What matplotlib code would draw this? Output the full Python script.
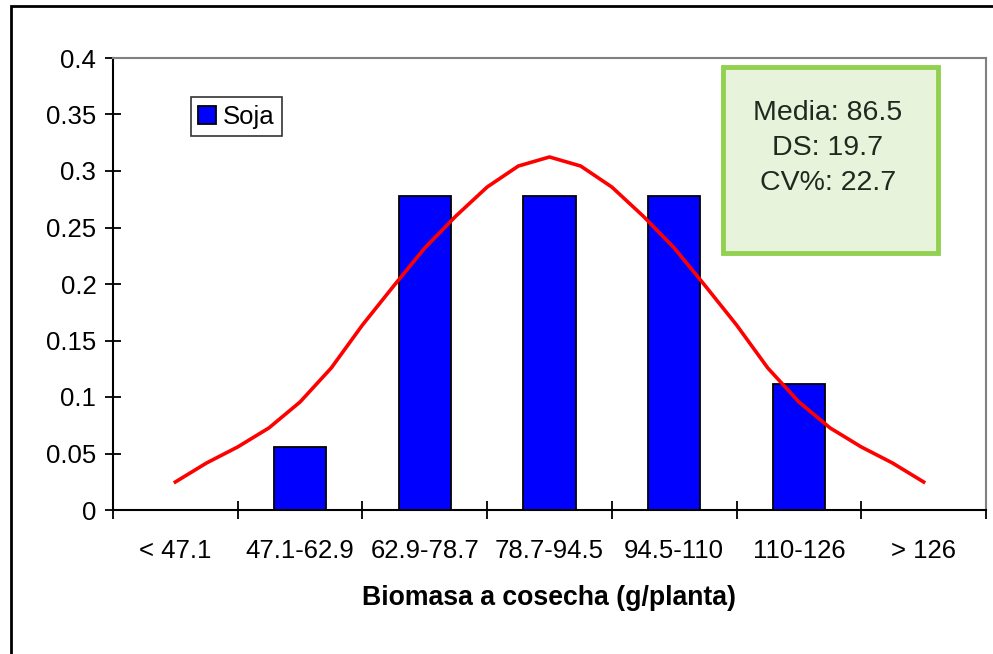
import matplotlib
matplotlib.use("Agg")
import matplotlib.pyplot as plt
import numpy as np
from matplotlib.patches import Rectangle

plt.rcParams['font.family'] = ['Liberation Sans', 'DejaVu Sans']

# clases de biomasa y frecuencias relativas (n = 18)
categorias = ['< 47.1', '47.1-62.9', '62.9-78.7', '78.7-94.5', '94.5-110', '110-126', '> 126']
frec_soja = [0.0, 0.0556, 0.2778, 0.2778, 0.2778, 0.1111, 0.0]

# curva normal ajustada, leida cada 1/4 de clase (desde centro de "< 47.1" a "> 126")
curva_x = [i / 4 for i in range(25)]
curva_y = [0.0248, 0.0416, 0.0558, 0.0726, 0.0956, 0.1257, 0.1637, 0.1982, 0.2319,
           0.2602, 0.2858, 0.3044, 0.3124, 0.3044, 0.2858, 0.2602, 0.2319, 0.1982,
           0.1637, 0.1257, 0.0956, 0.0726, 0.0558, 0.0416, 0.0248]

stats_txt = "Media: 86.5\nDS: 19.7\nCV%: 22.7"

fig = plt.figure(figsize=(9.93, 6.54), dpi=100)
ax = fig.add_axes([113 / 993, 144 / 654, 873 / 993, 452 / 654])

x = np.arange(len(categorias))
ax.bar(x, frec_soja, width=0.42, color='#0000FF', edgecolor='black', linewidth=1.3,
       label='Soja', zorder=2)
ax.plot(curva_x, curva_y, color='#FF0000', lw=2.6, zorder=3)

ax.set_xlim(-0.5, len(categorias) - 0.5)
ax.set_ylim(0, 0.4)
ax.set_yticks(np.arange(0, 0.41, 0.05))
ax.set_yticklabels(['0', '0.05', '0.1', '0.15', '0.2', '0.25', '0.3', '0.35', '0.4'])
ax.set_xticks(np.arange(-0.5, len(categorias), 1))
ax.set_xticklabels([])
ax.set_xticks(x, minor=True)
ax.set_xticklabels(categorias, minor=True)
ax.tick_params(axis='x', which='minor', length=0, pad=21, labelsize=18.5)
ax.tick_params(axis='x', which='major', direction='inout', length=13, width=1.3)
ax.tick_params(axis='y', direction='inout', length=12, width=1.3, pad=6, labelsize=18.5)

for s in ['left', 'bottom']:
    ax.spines[s].set_linewidth(1.5)
    ax.spines[s].set_color('black')
for s in ['top', 'right']:
    ax.spines[s].set_linewidth(1.5)
    ax.spines[s].set_color('#808080')

ax.set_xlabel('Biomasa a cosecha (g/planta)', fontsize=19.2, fontweight='bold', labelpad=16)

leg = ax.legend(loc='upper left', bbox_to_anchor=(0.089, 0.914), fontsize=18.5,
                frameon=True, fancybox=False, handlelength=0.7, handleheight=0.7,
                handletextpad=0.25, borderpad=0.3, borderaxespad=0)
leg.get_frame().set_edgecolor('black')
leg.get_frame().set_linewidth(1.2)

# recuadro con estadisticos
ax.add_patch(Rectangle((0.6987, 0.5686), 0.2463, 0.4114, transform=ax.transAxes,
                       facecolor='#E8F3DC', edgecolor='#92D050', linewidth=3.5, zorder=4))
ax.text(0.819, 0.801, stats_txt, transform=ax.transAxes, ha='center', va='center',
        fontsize=20.5, linespacing=1.45, color='#1F2A1F', zorder=5)

# marco exterior
fig.patches.append(Rectangle((11 / 993, -0.05), 1.2, (654 - 6) / 654 + 0.05,
                             transform=fig.transFigure, fill=False,
                             edgecolor='black', linewidth=2))

fig.savefig('out.png', dpi=100)
